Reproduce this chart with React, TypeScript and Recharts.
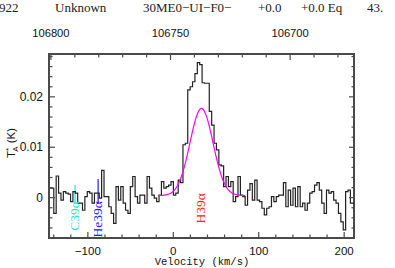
import { ComposedChart, Line, ReferenceArea, ReferenceLine, Scatter, XAxis, YAxis } from 'recharts';

// channel grid of the spectrum (km/s)
const V0 = -144.1;
const DV = 2.8;

// antenna temperature per channel (K)
const T_A = [
  0.0019, 0.0019, -0.0031, 0.0043, 0.0009, -0.0005, 0.0012, 0.0009, 0.0007, -0.0008,
  0.0012, 0.0009, -0.0011, -0.0011, -0.0025, 0.0002, 0.0012, 0.0009, -0.0011, 0.0009,
  0.0009, -0.0001, 0.0054, 0.0002, 0.0002, -0.0018, -0.0031, -0.0051, 0.0022, -0.0005,
  0.0022, -0.0011, -0.0025, -0.0031, 0.0022, 0.0042, 0.0002, -0.0011, 0.0005, 0.0005,
  -0.0011, 0.0042, 0.0019, 0.0005, -0.0001, -0.0008, 0.0005, 0.0032, 0.0019, 0.0022,
  0.0025, 0.0032, 0.0005, 0.0009, 0.0035, 0.003, 0.0105, 0.0108, 0.0214, 0.022,
  0.023, 0.0246, 0.0268, 0.0264, 0.0228, 0.0227, 0.0227, 0.0171, 0.0144, 0.0108,
  0.0095, 0.0065, 0.0063, 0.0022, 0.0042, 0.0022, 0.0032, -0.0008, 0.0002, 0.0042,
  0.0005, 0.0002, -0.0015, 0.0015, 0.0028, -0.0005, 0.0035, -0.0005, -0.0008, -0.0021,
  -0.0034, -0.0021, -0.0018, 0.0002, -0.0008, 0.0002, 0.0005, 0.0005, 0.003, -0.0018,
  0.0015, -0.0015, 0.0019, -0.0018, 0.0022, -0.0018, -0.0011, -0.0025, -0.0011, 0.0009,
  0.0012, 0.0025, 0.003, 0.0015, -0.0011, -0.0031, 0.0015, 0.0009, 0.0012, -0.0005,
  -0.0011, -0.0031, -0.0048, -0.0064, 0.0012, 0.0015, -0.0011, -0.0011,
];

// gaussian fit, sampled
const FIT_V = [
  -18, -15, -12, -9, -6, -3, 0, 3, 6, 9, 12, 15, 18, 21, 24, 27, 30, 33,
  36, 39, 42, 45, 48, 51, 54, 57, 60, 63, 66, 69, 72, 75, 78, 81, 84,
];
const FIT_T = [
  0.0004, 0.00043, 0.00047, 0.00054, 0.00067, 0.00089, 0.00127, 0.00187, 0.00274, 0.00396,
  0.00556, 0.00751, 0.00973, 0.01205, 0.01425, 0.01607, 0.01728, 0.0177,
  0.01728, 0.01607, 0.01425, 0.01205, 0.00973, 0.00751, 0.00556, 0.00396, 0.00274, 0.00187,
  0.00127, 0.00089, 0.00067, 0.00054, 0.00047, 0.00043, 0.0004,
];

// recombination lines
const LINE_NAMES = ['C39α', 'He39α', 'H39α'];
const LINE_V = [-115, -88, 33];
const LINE_TOP = [0.0025, 0.0037, null];
const LINE_BOTTOM = -0.0012;

const X_TICKS = [-140, -120, -100, -80, -60, -40, -20, 0, 20, 40, 60, 80, 100, 120, 140, 160, 180, 200];
const X_LABELS = [-100, 0, 100, 200];
const Y_TICKS = [
  -0.006, -0.004, -0.002, 0, 0.002, 0.004, 0.006, 0.008, 0.01, 0.012, 0.014, 0.016, 0.018,
  0.02, 0.022, 0.024, 0.026, 0.028,
];
const Y_LABELS = [0, 0.01, 0.02];
const F_TICKS = [106680, 106690, 106700, 106710, 106720, 106730, 106740, 106750, 106760, 106770, 106780, 106790, 106800];
const F_LABELS = [106700, 106750, 106800];

const HEADER = [
  { text: '922', x: -1 },
  { text: 'Unknown', x: 55 },
  { text: '30ME0−UI−F0−', x: 143 },
  { text: '+0.0', x: 258 },
  { text: '+0.0 Eq', x: 301 },
  { text: '43.', x: 367 },
];

const W = 395;
const H = 268;
const PLOT = { left: 49, right: 355, top: 54, bottom: 238 };
const V_DOMAIN = [-145.5, 211.5];
const F_DOMAIN = [106673.3, 106800.8];
const T_DOMAIN = [-0.008, 0.0285];
const FRAME = '#4a4a4a';
const INK = '#111';
const SANS = '"Liberation Sans", Arial, sans-serif';
const LINE_COLORS = ['#22e0e0', '#2020e8', '#ff2020'];
const LABEL_DY = [3.5, 3.5, -4.5];

const fmtX = (v: number) => (v < 0 ? `−${-v}` : `${v}`);

const BottomTick = (props: any) => {
  const { x, payload } = props;
  const major = X_LABELS.includes(payload.value);
  return (
    <g>
      <line x1={x} x2={x} y1={PLOT.bottom} y2={PLOT.bottom - (major ? 6 : 3.5)} stroke={FRAME} strokeWidth={1.2} />
      {major && (
        <text x={x} y={255} textAnchor="middle" fontSize={11.5} fontFamily={SANS} fill={INK}>
          {fmtX(payload.value)}
        </text>
      )}
    </g>
  );
};

const TopTick = (props: any) => {
  const { x, payload } = props;
  const major = F_LABELS.includes(payload.value);
  return (
    <g>
      <line x1={x} x2={x} y1={PLOT.top} y2={PLOT.top + (major ? 6 : 3.5)} stroke={FRAME} strokeWidth={1.2} />
      {major && (
        <text x={x} y={36.5} textAnchor="middle" fontSize={11.2} fontFamily={SANS} fill={INK}>
          {payload.value}
        </text>
      )}
    </g>
  );
};

const LeftTick = (props: any) => {
  const { y, payload } = props;
  const major = Y_LABELS.includes(payload.value);
  return (
    <g>
      <line x1={PLOT.left} x2={PLOT.left + (major ? 6 : 3.5)} y1={y} y2={y} stroke={FRAME} strokeWidth={1.2} />
      {major && (
        <text x={43} y={y + 4} textAnchor="end" fontSize={12} fontFamily={SANS} fill={INK}>
          {payload.value}
        </text>
      )}
    </g>
  );
};

const RightTick = (props: any) => {
  const { y, payload } = props;
  const major = Y_LABELS.includes(payload.value);
  return (
    <line x1={PLOT.right} x2={PLOT.right - (major ? 6 : 3.5)} y1={y} y2={y} stroke={FRAME} strokeWidth={1.2} />
  );
};

const LineLabel = (props: any) => {
  const { cx, cy, payload } = props;
  const i = payload.i;
  const y = cy + LABEL_DY[i];
  return (
    <text
      x={cx + 4}
      y={y}
      transform={`rotate(-90, ${cx + 4}, ${y})`}
      textAnchor="end"
      fontSize={13.5}
      fontFamily='"Liberation Serif", serif'
      fill={LINE_COLORS[i]}
    >
      {LINE_NAMES[i]}
    </text>
  );
};

export default function App() {
  const spectrum = T_A.map((t, i) => ({ v: V0 + DV * i, t }));
  const fit = FIT_V.map((v, i) => ({ v, t: FIT_T[i] }));
  const marks = LINE_V.map((v, i) => ({ v, t: 0, i }));
  // empty series so the frequency axis and the right ticks get drawn
  const freqAnchor = F_DOMAIN.map((f) => ({ f, r: null }));

  return (
    <div style={{ position: 'absolute', left: 0, top: 0, width: W, height: H, background: '#fff', overflow: 'hidden' }}>
      <ComposedChart width={W} height={H} margin={{ top: 0, right: W - PLOT.right, bottom: 0, left: 0 }}>
        <XAxis
          xAxisId="bottom"
          dataKey="v"
          type="number"
          domain={V_DOMAIN}
          allowDataOverflow
          ticks={X_TICKS}
          interval={0}
          height={H - PLOT.bottom}
          tick={BottomTick}
          tickLine={false}
          axisLine={false}
        />
        <XAxis
          xAxisId="top"
          dataKey="f"
          orientation="top"
          type="number"
          domain={F_DOMAIN}
          reversed
          allowDataOverflow
          ticks={F_TICKS}
          interval={0}
          height={PLOT.top}
          tick={TopTick}
          tickLine={false}
          axisLine={false}
        />
        <YAxis
          yAxisId="left"
          type="number"
          domain={T_DOMAIN}
          allowDataOverflow
          ticks={Y_TICKS}
          interval={0}
          width={PLOT.left}
          tick={LeftTick}
          tickLine={false}
          axisLine={false}
        />
        <YAxis
          yAxisId="right"
          orientation="right"
          type="number"
          domain={T_DOMAIN}
          allowDataOverflow
          ticks={Y_TICKS}
          interval={0}
          width={1}
          tick={RightTick}
          tickLine={false}
          axisLine={false}
        />
        {/* plot frame */}
        <ReferenceArea
          xAxisId="bottom"
          yAxisId="left"
          x1={V_DOMAIN[0]}
          x2={V_DOMAIN[1]}
          y1={T_DOMAIN[0]}
          y2={T_DOMAIN[1]}
          fill="none"
          fillOpacity={0}
          stroke={FRAME}
          strokeWidth={2}
          ifOverflow="visible"
        />
        <Line
          xAxisId="top"
          yAxisId="right"
          data={freqAnchor}
          dataKey="r"
          stroke="none"
          dot={false}
          activeDot={false}
          isAnimationActive={false}
        />
        {LINE_V.map((v, i) =>
          LINE_TOP[i] === null ? null : (
            <ReferenceLine
              key={LINE_NAMES[i]}
              xAxisId="bottom"
              yAxisId="left"
              segment={[
                { x: v, y: LINE_BOTTOM },
                { x: v, y: LINE_TOP[i] as number },
              ]}
              stroke={LINE_COLORS[i]}
              strokeWidth={1.2}
            />
          )
        )}
        <Line
          xAxisId="bottom"
          yAxisId="left"
          data={spectrum}
          dataKey="t"
          type="step"
          stroke="#222"
          strokeWidth={1.2}
          dot={false}
          isAnimationActive={false}
        />
        <Line
          xAxisId="bottom"
          yAxisId="left"
          data={fit}
          dataKey="t"
          type="monotone"
          stroke="#ff00ff"
          strokeWidth={1.2}
          dot={false}
          isAnimationActive={false}
        />
        <Scatter
          xAxisId="bottom"
          yAxisId="left"
          data={marks}
          dataKey="t"
          shape={LineLabel}
          isAnimationActive={false}
        />
      </ComposedChart>
      <svg width={W} height={H} style={{ position: 'absolute', left: 0, top: 0, pointerEvents: 'none' }}>
        {HEADER.map((h) => (
          <text key={h.text} x={h.x} y={12} fontSize={13} fontFamily='"Liberation Serif", serif' fill="#222">
            {h.text}
          </text>
        ))}
        <text
          x={15}
          y={143}
          transform="rotate(-90, 15, 143)"
          textAnchor="middle"
          fontSize={11.5}
          fontFamily={SANS}
          fill={INK}
        >
          T<tspan fontSize={8} dy={-4}>*</tspan>
          <tspan fontSize={8} dx={-4} dy={7}>A</tspan>
          <tspan dy={-3}> (K)</tspan>
        </text>
        <text x={202} y={265} textAnchor="middle" fontSize={10.5} fontFamily='"Liberation Mono", monospace' fill={INK}>
          Velocity (km/s)
        </text>
      </svg>
    </div>
  );
}
